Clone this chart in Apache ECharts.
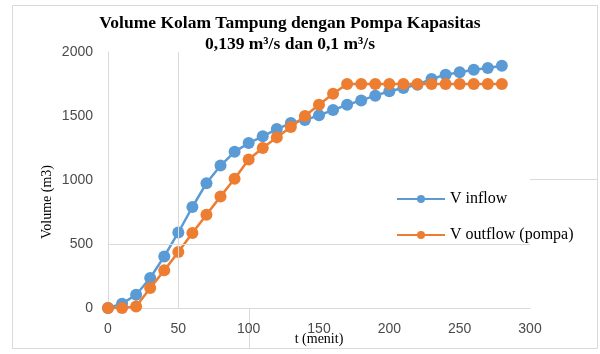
<!DOCTYPE html>
<html><head><meta charset="utf-8">
<script src="https://cdn.jsdelivr.net/npm/echarts@6/dist/echarts.min.js"></script>
<style>html,body{margin:0;padding:0;background:#fff}#c{width:600px;height:354px}</style>
</head><body><div id="c"></div>
<script>
var tMinutes = [0,10,20,30,40,50,60,70,80,90,100,110,120,130,140,150,160,170,180,190,200,210,220,230,240,250,260,270,280];
var vInflow = [0,34,104,234,403,590,789,975,1113,1220,1289,1341,1398,1445,1468,1506,1546,1588,1622,1659,1693,1719,1745,1789,1823,1841,1862,1875,1893];
var vOutflow = [0,0,12,156,294,437,586,729,872,1010,1160,1250,1333,1414,1500,1588,1674,1750,1750,1750,1750,1750,1750,1750,1750,1750,1750,1750,1750];
var xTicks = [0,50,100,150,200,250,300];
var yTicks = [0,500,1000,1500,2000];
var seriesNames = ['V inflow','V outflow (pompa)'];
var titleLines = ['Volume Kolam Tampung dengan Pompa Kapasitas','0,139 m\u00b3/s dan 0,1 m\u00b3/s'];

var chart = echarts.init(document.getElementById('c'));
var serif = '"Liberation Serif","Times New Roman",serif';
var sans = '"Liberation Sans",Arial,sans-serif';
function pairs(v){return tMinutes.map(function(t,i){return [t,v[i]];});}
chart.setOption({
  animation:false,
  backgroundColor:'#fff',
  title:{text:titleLines.join('\n'),left:285,textAlign:'center',top:8,
    textStyle:{fontFamily:serif,fontWeight:'bold',fontSize:17.5,color:'#000',lineHeight:21}},
  grid:{left:108,right:70,top:52,bottom:46,outerBoundsMode:'none',containLabel:false},
  legend:{orient:'vertical',left:391,top:186,itemWidth:48,itemHeight:10,itemGap:20,
    data:seriesNames,textStyle:{fontFamily:serif,fontSize:16,color:'#000'}},
  xAxis:{type:'value',min:xTicks[0],max:xTicks[xTicks.length-1],interval:50,
    name:'t (menit)',nameLocation:'middle',nameGap:24,nameMoveOverlap:false,
    nameTextStyle:{fontFamily:serif,fontSize:14,color:'#000'},
    axisLine:{lineStyle:{color:'#d9d9d9'}},axisTick:{show:false},splitLine:{show:false},
    axisLabel:{margin:14,fontFamily:sans,fontSize:14,color:'#4a4a4a'}},
  yAxis:{type:'value',min:yTicks[0],max:yTicks[yTicks.length-1],interval:500,
    axisLine:{show:true,lineStyle:{color:'#d9d9d9'}},axisTick:{show:false},splitLine:{show:false},
    axisLabel:{margin:15,fontFamily:sans,fontSize:14,color:'#4a4a4a',formatter:function(v){return String(v);}}},
  graphic:[
    {type:'rect',shape:{x:12.5,y:5.5,width:585,height:343},style:{fill:null,stroke:'#d9d9d9',lineWidth:1},silent:true},
    {type:'line',shape:{x1:249.5,y1:308,x2:249.5,y2:349},style:{stroke:'#d9d9d9',lineWidth:1},silent:true},
    {type:'line',shape:{x1:530,y1:179.5,x2:598,y2:179.5},style:{stroke:'#d9d9d9',lineWidth:1},silent:true},
    {type:'text',x:47,y:202,rotation:Math.PI/2,style:{text:'Volume (m3)',fontFamily:serif,fontSize:14,fill:'#000',align:'center',verticalAlign:'middle'}}
  ],
  series:[
    {type:'line',data:[],z:1,silent:true,
      markLine:{silent:true,symbol:'none',label:{show:false},lineStyle:{color:'#d9d9d9',type:'solid',width:1},
        data:[{xAxis:50},{yAxis:500}]}},
    {name:seriesNames[0],type:'line',data:pairs(vInflow),z:3,color:'#5B9BD5',
      symbol:'circle',symbolSize:12,lineStyle:{width:2.5,color:'#5B9BD5'},itemStyle:{color:'#5B9BD5'}},
    {name:seriesNames[1],type:'line',data:pairs(vOutflow),z:4,color:'#ED7D31',
      symbol:'circle',symbolSize:12,lineStyle:{width:2.5,color:'#ED7D31'},itemStyle:{color:'#ED7D31'}}
  ]
});
</script></body></html>
